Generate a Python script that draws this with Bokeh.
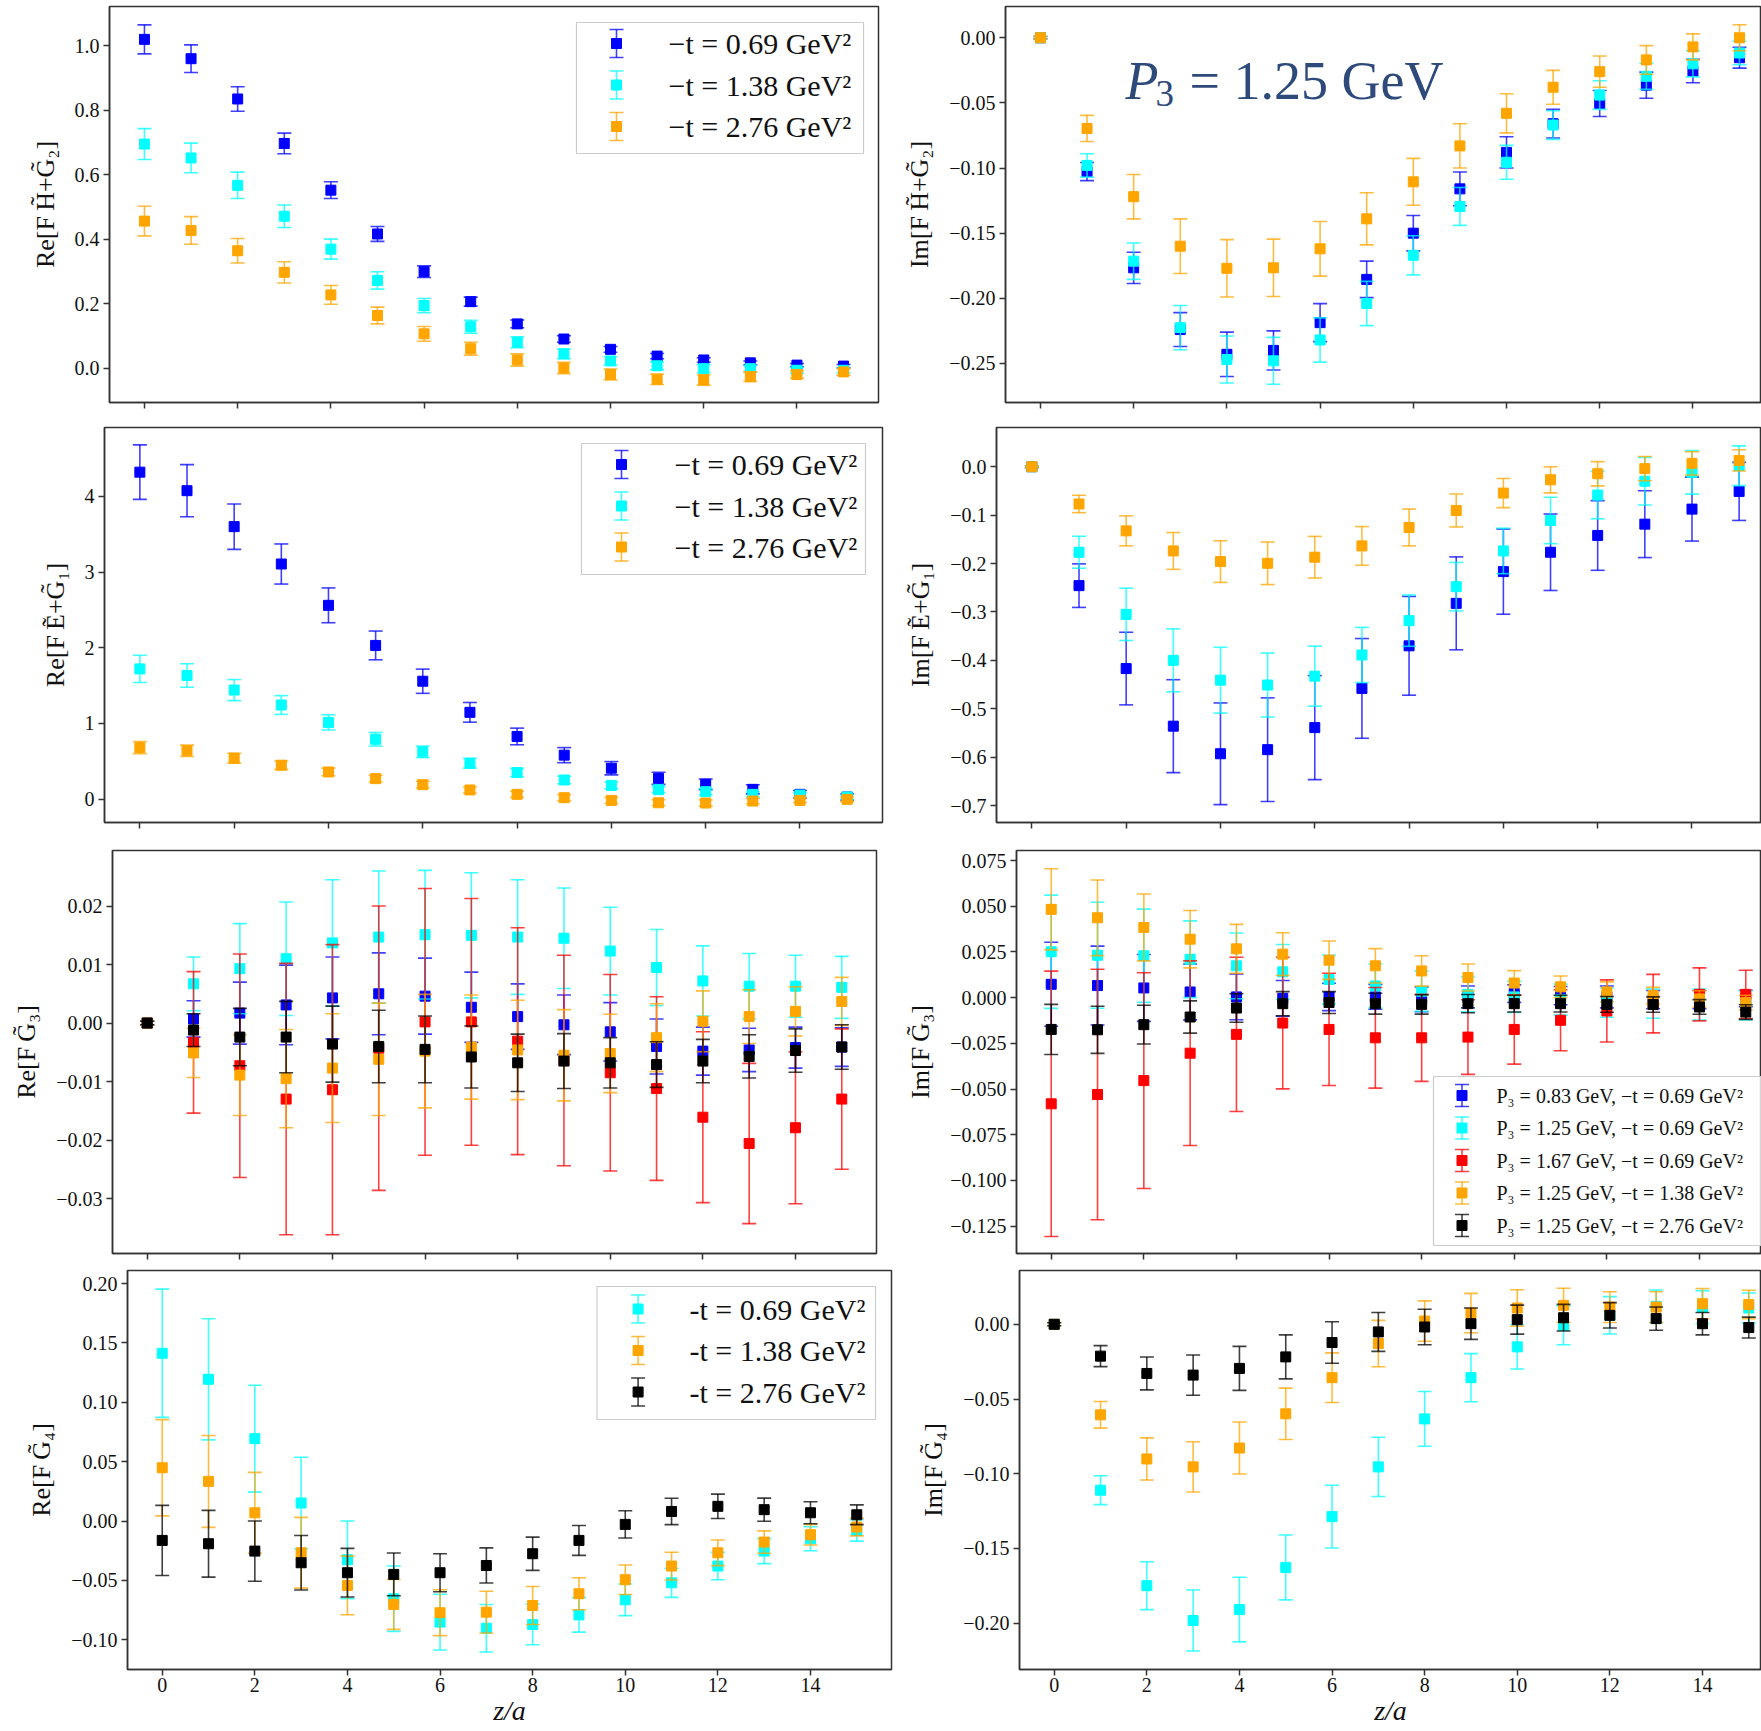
from bokeh.plotting import figure
from bokeh.models import Range1d, FixedTicker, CustomJSTickFormatter, ColumnDataSource, CustomLabelingPolicy
from bokeh.layouts import row, column
from bokeh.embed import file_html
from bokeh.resources import INLINE
from bokeh.core.properties import value

# ---------------------------------------------------------------- data
Z = list(range(16))
XTICKS = [0, 2, 4, 6, 8, 10, 12, 14]

# Re[F_{H+G2}]
RE_HG2_T069 = [1.020, 0.960, 0.835, 0.697, 0.552, 0.416, 0.299, 0.206, 0.137, 0.090, 0.058, 0.037, 0.025, 0.016, 0.009, 0.006]
RE_HG2_T069_ERR = [0.045, 0.043, 0.038, 0.032, 0.026, 0.023, 0.018, 0.014, 0.012, 0.010, 0.009, 0.008, 0.007, 0.006, 0.005, 0.005]
RE_HG2_T138 = [0.695, 0.652, 0.567, 0.471, 0.369, 0.272, 0.194, 0.128, 0.080, 0.044, 0.022, 0.007, -0.002, -0.002, -0.007, -0.007]
RE_HG2_T138_ERR = [0.048, 0.046, 0.041, 0.035, 0.031, 0.027, 0.022, 0.020, 0.017, 0.015, 0.013, 0.012, 0.012, 0.010, 0.009, 0.008]
RE_HG2_T276 = [0.456, 0.427, 0.364, 0.297, 0.227, 0.163, 0.106, 0.060, 0.025, 0.000, -0.020, -0.035, -0.037, -0.027, -0.020, -0.012]
RE_HG2_T276_ERR = [0.046, 0.043, 0.038, 0.033, 0.029, 0.026, 0.023, 0.020, 0.019, 0.018, 0.017, 0.016, 0.016, 0.015, 0.012, 0.010]

# Im[F_{H+G2}]
IM_HG2_T069 = [0.0, -0.1027, -0.1766, -0.224, -0.243, -0.240, -0.2187, -0.1855, -0.150, -0.116, -0.088, -0.066, -0.0505, -0.0364, -0.0255, -0.0153]
IM_HG2_T069_ERR = [0.001, 0.007, 0.012, 0.013, 0.017, 0.015, 0.0146, 0.014, 0.0136, 0.013, 0.012, 0.011, 0.010, 0.010, 0.009, 0.008]
IM_HG2_T138 = [0.0, -0.098, -0.1715, -0.2225, -0.247, -0.248, -0.232, -0.204, -0.167, -0.1295, -0.0956, -0.067, -0.044, -0.0296, -0.020, -0.0117]
IM_HG2_T138_ERR = [0.001, 0.009, 0.014, 0.017, 0.018, 0.018, 0.017, 0.017, 0.015, 0.0145, 0.013, 0.011, 0.011, 0.010, 0.010, 0.009]
IM_HG2_T276 = [0.0, -0.0696, -0.122, -0.160, -0.177, -0.1766, -0.162, -0.139, -0.1106, -0.083, -0.058, -0.038, -0.026, -0.017, -0.007, 0.000]
IM_HG2_T276_ERR = [0.001, 0.010, 0.017, 0.021, 0.022, 0.022, 0.021, 0.020, 0.018, 0.017, 0.015, 0.013, 0.012, 0.011, 0.010, 0.010]

# Re[F_{E+G1}]
RE_EG1_T069 = [4.32, 4.075, 3.60, 3.106, 2.56, 2.03, 1.557, 1.146, 0.827, 0.58, 0.407, 0.274, 0.195, 0.128, 0.062, 0.027]
RE_EG1_T069_ERR = [0.36, 0.345, 0.30, 0.265, 0.23, 0.19, 0.16, 0.13, 0.11, 0.10, 0.088, 0.08, 0.07, 0.06, 0.05, 0.04]
RE_EG1_T138 = [1.72, 1.633, 1.44, 1.243, 1.013, 0.79, 0.624, 0.473, 0.35, 0.252, 0.18, 0.124, 0.097, 0.062, 0.053, 0.027]
RE_EG1_T138_ERR = [0.18, 0.155, 0.14, 0.124, 0.10, 0.09, 0.076, 0.065, 0.055, 0.05, 0.045, 0.04, 0.04, 0.035, 0.03, 0.03]
RE_EG1_T276 = [0.68, 0.637, 0.54, 0.447, 0.358, 0.27, 0.19, 0.12, 0.062, 0.018, -0.018, -0.049, -0.053, -0.027, -0.018, -0.004]
RE_EG1_T276_ERR = [0.08, 0.075, 0.065, 0.055, 0.05, 0.045, 0.045, 0.04, 0.04, 0.04, 0.04, 0.04, 0.04, 0.035, 0.03, 0.03]

# Im[F_{E+G1}]
IM_EG1_T069 = [0.0, -0.2457, -0.417, -0.536, -0.593, -0.5845, -0.539, -0.458, -0.370, -0.2823, -0.2167, -0.1767, -0.142, -0.1187, -0.0876, -0.051]
IM_EG1_T069_ERR = [0.002, 0.045, 0.075, 0.096, 0.105, 0.107, 0.1075, 0.103, 0.102, 0.096, 0.088, 0.079, 0.072, 0.069, 0.066, 0.060]
IM_EG1_T138 = [0.0, -0.1767, -0.305, -0.400, -0.441, -0.451, -0.4327, -0.389, -0.318, -0.2478, -0.174, -0.111, -0.0587, -0.030, -0.0117, 0.002]
IM_EG1_T138_ERR = [0.002, 0.033, 0.054, 0.065, 0.068, 0.066, 0.062, 0.057, 0.053, 0.050, 0.047, 0.048, 0.049, 0.049, 0.045, 0.041]
IM_EG1_T276 = [0.0, -0.077, -0.1325, -0.174, -0.196, -0.1995, -0.187, -0.1636, -0.1256, -0.0904, -0.0545, -0.027, -0.0145, -0.004, 0.007, 0.013]
IM_EG1_T276_ERR = [0.002, 0.018, 0.031, 0.038, 0.043, 0.044, 0.043, 0.040, 0.038, 0.034, 0.030, 0.027, 0.025, 0.025, 0.024, 0.022]

# Re[F_{G3}]
RE_G3_P083 = [0.0, 0.0007, 0.0017, 0.0031, 0.0043, 0.005, 0.0046, 0.0027, 0.0011, -0.0003, -0.0015, -0.004, -0.0048, -0.0046, -0.0042, -0.0041]
RE_G3_P083_ERR = [0.0003, 0.0031, 0.0053, 0.0068, 0.007, 0.007, 0.0065, 0.006, 0.0056, 0.0051, 0.005, 0.0047, 0.0041, 0.0037, 0.0035, 0.0033]
RE_G3_P125 = [0.0, 0.0067, 0.0093, 0.011, 0.0137, 0.0147, 0.0151, 0.015, 0.0147, 0.0145, 0.0123, 0.0095, 0.0072, 0.0063, 0.0063, 0.0061]
RE_G3_P125_ERR = [0.0003, 0.0046, 0.0077, 0.0097, 0.0108, 0.0113, 0.011, 0.0107, 0.0098, 0.0086, 0.0075, 0.0065, 0.006, 0.0056, 0.0053, 0.0053]
RE_G3_P167 = [0.0, -0.0033, -0.0073, -0.013, -0.0114, -0.0043, 0.0002, 0.0002, -0.0031, -0.0064, -0.0085, -0.0112, -0.0161, -0.0206, -0.0179, -0.013]
RE_G3_P167_ERR = [0.0003, 0.0121, 0.0191, 0.0232, 0.0248, 0.0243, 0.0228, 0.0211, 0.0194, 0.018, 0.0168, 0.0157, 0.0146, 0.0137, 0.013, 0.012]
RE_G3_T138 = [0.0, -0.0051, -0.0089, -0.0095, -0.0077, -0.0062, -0.0048, -0.0041, -0.0046, -0.0055, -0.0052, -0.0025, 0.0003, 0.0011, 0.002, 0.0037]
RE_G3_T138_ERR = [0.0003, 0.0042, 0.0069, 0.0084, 0.0093, 0.0096, 0.0097, 0.0089, 0.0085, 0.0078, 0.0067, 0.0058, 0.0052, 0.0046, 0.0042, 0.0041]
RE_G3_T276 = [0.0, -0.0012, -0.0024, -0.0024, -0.0036, -0.004, -0.0045, -0.0058, -0.0068, -0.0065, -0.0068, -0.0071, -0.0065, -0.0057, -0.0047, -0.0041]
RE_G3_T276_ERR = [0.0003, 0.0028, 0.0049, 0.0061, 0.0065, 0.0062, 0.0057, 0.0053, 0.0049, 0.0047, 0.0043, 0.0039, 0.0037, 0.0037, 0.0037, 0.0038]

# Im[F_{G3}]
IM_G3_P083 = [0.0073, 0.0066, 0.0053, 0.0031, 0.0004, -0.0004, 0.0004, 0.0004, -0.0009, 0.0004, 0.0022, 0.0011, 0.0004, -0.0011, -0.0011, -0.0005]
IM_G3_P083_ERR = [0.023, 0.0216, 0.0183, 0.0153, 0.0125, 0.0098, 0.0075, 0.0068, 0.0068, 0.006, 0.0048, 0.005, 0.006, 0.005, 0.005, 0.0045]
IM_G3_P125 = [0.0251, 0.0232, 0.0229, 0.021, 0.0174, 0.0141, 0.0099, 0.0064, 0.0035, 0.0018, 0.0004, -0.0011, -0.0027, -0.0033, -0.0038, -0.0042]
IM_G3_P125_ERR = [0.031, 0.029, 0.0255, 0.021, 0.018, 0.015, 0.0133, 0.012, 0.011, 0.0095, 0.0085, 0.0085, 0.008, 0.008, 0.0085, 0.008]
IM_G3_P167 = [-0.0581, -0.053, -0.0454, -0.0304, -0.0201, -0.0139, -0.0174, -0.022, -0.022, -0.0216, -0.0174, -0.0124, -0.0073, -0.0033, 0.0018, 0.0018]
IM_G3_P167_ERR = [0.0726, 0.0685, 0.059, 0.0505, 0.0422, 0.036, 0.0307, 0.0275, 0.0238, 0.0204, 0.019, 0.0167, 0.017, 0.016, 0.0145, 0.0132]
IM_G3_T138 = [0.0483, 0.0437, 0.0384, 0.032, 0.0267, 0.0238, 0.0205, 0.0174, 0.0146, 0.011, 0.008, 0.0059, 0.0031, 0.0011, -0.0007, -0.0027]
IM_G3_T138_ERR = [0.0222, 0.0207, 0.0183, 0.0157, 0.0134, 0.0117, 0.0105, 0.0094, 0.0083, 0.0074, 0.0068, 0.0059, 0.0055, 0.0045, 0.0045, 0.004]
IM_G3_T276 = [-0.0174, -0.0176, -0.0148, -0.0106, -0.0057, -0.0033, -0.0027, -0.0033, -0.0037, -0.0033, -0.0033, -0.0033, -0.0037, -0.0038, -0.0051, -0.0079]
IM_G3_T276_ERR = [0.0137, 0.0129, 0.0106, 0.0088, 0.0078, 0.0066, 0.006, 0.0057, 0.0053, 0.005, 0.0046, 0.0046, 0.0043, 0.0042, 0.004, 0.004]

# Re[F_{G4}]
RE_G4_T069 = [0.1413, 0.1194, 0.0694, 0.0152, -0.0326, -0.0654, -0.0851, -0.0902, -0.0871, -0.079, -0.0663, -0.052, -0.0379, -0.0253, -0.0149, -0.0079]
RE_G4_T069_ERR = [0.054, 0.051, 0.045, 0.0385, 0.0327, 0.0275, 0.0235, 0.020, 0.017, 0.0145, 0.0133, 0.0123, 0.0115, 0.0105, 0.0101, 0.009]
RE_G4_T138 = [0.0449, 0.0334, 0.007, -0.0267, -0.0542, -0.0702, -0.0772, -0.0767, -0.0711, -0.0612, -0.0494, -0.0379, -0.0267, -0.0177, -0.0115, -0.005]
RE_G4_T138_ERR = [0.0405, 0.0387, 0.034, 0.0298, 0.0247, 0.021, 0.0193, 0.0176, 0.016, 0.0135, 0.0124, 0.0117, 0.0108, 0.0094, 0.0086, 0.0075]
RE_G4_T276 = [-0.0163, -0.0191, -0.0253, -0.0351, -0.0435, -0.0449, -0.0435, -0.0374, -0.0275, -0.0163, -0.0028, 0.0081, 0.0124, 0.0096, 0.007, 0.0053]
RE_G4_T276_ERR = [0.0295, 0.0281, 0.0254, 0.0229, 0.0205, 0.018, 0.016, 0.0148, 0.014, 0.0126, 0.0115, 0.0111, 0.0103, 0.0097, 0.0093, 0.0083]

# Im[F_{G4}]
IM_G4_T069 = [0.0, -0.111, -0.1749, -0.1982, -0.1909, -0.1627, -0.1287, -0.0954, -0.0633, -0.0357, -0.0151, -0.0007, 0.006, 0.012, 0.0115, 0.0109]
IM_G4_T069_ERR = [0.001, 0.0097, 0.016, 0.0204, 0.0216, 0.0217, 0.021, 0.0198, 0.0183, 0.0161, 0.0148, 0.013, 0.0125, 0.011, 0.011, 0.010]
IM_G4_T138 = [0.0, -0.0606, -0.0901, -0.0954, -0.0828, -0.0599, -0.0357, -0.0129, 0.0022, 0.0075, 0.0109, 0.0127, 0.0115, 0.0115, 0.0138, 0.0133]
IM_G4_T138_ERR = [0.001, 0.0089, 0.0141, 0.0168, 0.0174, 0.0172, 0.0166, 0.0155, 0.0135, 0.0132, 0.0122, 0.0114, 0.0103, 0.0103, 0.0102, 0.0095]
IM_G4_T276 = [0.0, -0.0213, -0.0329, -0.034, -0.0295, -0.0218, -0.0122, -0.0051, -0.0018, 0.0004, 0.0031, 0.0044, 0.006, 0.0038, 0.0004, -0.0022]
IM_G4_T276_ERR = [0.001, 0.007, 0.011, 0.0135, 0.0147, 0.0147, 0.0139, 0.013, 0.0119, 0.0105, 0.0097, 0.0089, 0.0085, 0.0078, 0.0075, 0.007]

LEG_T = ["\u2212t = 0.69 GeV\u00b2", "\u2212t = 1.38 GeV\u00b2", "\u2212t = 2.76 GeV\u00b2"]
LEG_T_HY = ["-t = 0.69 GeV\u00b2", "-t = 1.38 GeV\u00b2", "-t = 2.76 GeV\u00b2"]
LEG_G3 = ["P\u2083 = 0.83 GeV, \u2212t = 0.69 GeV\u00b2",
          "P\u2083 = 1.25 GeV, \u2212t = 0.69 GeV\u00b2",
          "P\u2083 = 1.67 GeV, \u2212t = 0.69 GeV\u00b2",
          "P\u2083 = 1.25 GeV, \u2212t = 1.38 GeV\u00b2",
          "P\u2083 = 1.25 GeV, \u2212t = 2.76 GeV\u00b2"]

YL_RE_HG2 = "Re[F\u2009H\u0303+G\u0303\u2082]"
YL_IM_HG2 = "Im[F\u2009H\u0303+G\u0303\u2082]"
YL_RE_EG1 = "Re[F\u2009E\u0303+G\u0303\u2081]"
YL_IM_EG1 = "Im[F\u2009E\u0303+G\u0303\u2081]"
YL_RE_G3 = "Re[F\u2009G\u0303\u2083]"
YL_IM_G3 = "Im[F\u2009G\u0303\u2083]"
YL_RE_G4 = "Re[F\u2009G\u0303\u2084]"
YL_IM_G4 = "Im[F\u2009G\u0303\u2084]"

# ---------------------------------------------------------------- style
SERIF = "Liberation Serif"
BLUE, CYAN, ORANGE, RED, BLACK = "#0000ff", "#00ffff", "#ffa500", "#ff0000", "#000000"
AX = "#333333"
TXT = "#111111"

TOTAL_W = 1761
SPLIT = 895

NO_LABELS = CustomLabelingPolicy(code="""
const ind = arguments[0];
try { for (const i of Array.from(ind)) { ind.unset(i); } } catch (e) {}
return ind;
""")


def make_panel(cw, ch, bl, br, bt, bb, yr, yticks, ydec, ylabel, xlabels, xend=None):
    fw = cw - bl - br
    xr = (-0.75, 15.75) if xend is None else (-0.75, xend)
    p = figure(width=cw, height=ch, x_range=Range1d(*xr), y_range=Range1d(*yr),
               output_backend="svg", toolbar_location=None,
               min_border_left=bl, min_border_right=br, min_border_top=bt, min_border_bottom=bb)
    p.grid.visible = False
    p.background_fill_color = "white"
    p.border_fill_color = "white"
    p.outline_line_color = AX
    p.outline_line_width = 1.5
    for ax in (p.xaxis[0], p.yaxis[0]):
        ax.axis_line_color = AX
        ax.axis_line_width = 1.5
        ax.major_tick_line_color = AX
        ax.major_tick_line_width = 1.5
        ax.major_tick_out = 6
        ax.major_tick_in = 0
        ax.minor_tick_out = 0
        ax.minor_tick_in = 0
        ax.major_label_text_font = SERIF
        ax.major_label_text_font_size = "20px"
        ax.major_label_text_color = TXT
        ax.major_label_standoff = 4
    p.xaxis.ticker = FixedTicker(ticks=XTICKS)
    p.yaxis.ticker = FixedTicker(ticks=yticks)
    p.yaxis.formatter = CustomJSTickFormatter(code="return tick.toFixed(%d).replace('-', '\\u2212');" % ydec)
    p.yaxis.axis_label = ylabel
    p.yaxis.axis_label_text_font = SERIF
    p.yaxis.axis_label_text_font_size = "26px"
    p.yaxis.axis_label_text_font_style = "normal"
    p.yaxis.axis_label_text_color = TXT
    p.yaxis.axis_label_standoff = 12
    if xlabels:
        p.xaxis.major_label_standoff = 2
        p.xaxis.axis_label = "z/a"
        p.xaxis.axis_label_text_font = SERIF
        p.xaxis.axis_label_text_font_size = "28px"
        p.xaxis.axis_label_text_font_style = "italic"
        p.xaxis.axis_label_text_color = TXT
        p.xaxis.axis_label_standoff = 0
    else:
        p.xaxis.major_label_text_font_size = "0px"
        p.xaxis.major_label_standoff = 0
        p.xaxis.major_label_policy = NO_LABELS
    fh = ch - bt - bb
    p.extra_x_ranges = {"px": Range1d(0, fw)}
    p.extra_y_ranges = {"py": Range1d(fh, 0)}
    return p


def errorbars(p, y, e, color):
    lo = [a - b for a, b in zip(y, e)]
    hi = [a + b for a, b in zip(y, e)]
    src = ColumnDataSource(dict(z=Z, y=y, lo=lo, hi=hi))
    p.segment(x0="z", y0="lo", x1="z", y1="hi", source=src,
              line_color=color, line_width=1.6, line_alpha=0.75)
    p.scatter(x="z", y="lo", source=src, marker="dash", size=14,
              line_color=color, line_width=1.6, line_alpha=0.75)
    p.scatter(x="z", y="hi", source=src, marker="dash", size=14,
              line_color=color, line_width=1.6, line_alpha=0.75)
    p.scatter(x="z", y="y", source=src, marker="square", size=10,
              fill_color=color, line_color=color)


def legend(p, box, labels, colors, ys, mx, tx, font, half):
    x0, x1, y0, y1 = box
    kw = dict(x_range_name="px", y_range_name="py")
    p.quad(left=[x0], right=[x1], top=[y0], bottom=[y1], fill_color="white", fill_alpha=0.8,
           line_color="#cccccc", line_width=1.2, **kw)
    for lab, col, yy in zip(labels, colors, ys):
        p.segment(x0=[mx], y0=[yy - half], x1=[mx], y1=[yy + half], line_color=col,
                  line_width=1.6, line_alpha=0.75, **kw)
        p.scatter(x=[mx, mx], y=[yy - half, yy + half], marker="dash", size=14, line_color=col,
                  line_width=1.6, line_alpha=0.75, **kw)
        p.scatter(x=[mx], y=[yy], marker="square", size=10, fill_color=col, line_color=col, **kw)
        p.text(x=[tx], y=[yy], text=[lab], text_font=value(SERIF), text_font_size=font,
               text_baseline="middle", text_align="left", text_color=TXT, **kw)


RW = TOTAL_W - SPLIT


def xend_for(left_fw, right_fw):
    per = left_fw / 16.5
    return -0.75 + right_fw / per


# ---------------------------------------------------------------- row 1
H1 = 416
p1 = make_panel(SPLIT, H1, 109, SPLIT - 878, 6, 14, (-0.107, 1.122),
                [0.0, 0.2, 0.4, 0.6, 0.8, 1.0], 1, YL_RE_HG2, False)
errorbars(p1, RE_HG2_T069, RE_HG2_T069_ERR, BLUE)
errorbars(p1, RE_HG2_T138, RE_HG2_T138_ERR, CYAN)
errorbars(p1, RE_HG2_T276, RE_HG2_T276_ERR, ORANGE)
legend(p1, (467, 754, 16, 147), LEG_T, [BLUE, CYAN, ORANGE], [37, 78.5, 120], 507, 559, "30px", 14)

p2 = make_panel(RW, H1, 1005 - SPLIT, 0, 6, 14, (-0.280, 0.024),
                [-0.25, -0.2, -0.15, -0.1, -0.05, 0.0], 2, YL_IM_HG2, False,
                xend=xend_for(769, RW - (1005 - SPLIT)))
errorbars(p2, IM_HG2_T069, IM_HG2_T069_ERR, BLUE)
errorbars(p2, IM_HG2_T138, IM_HG2_T138_ERR, CYAN)
errorbars(p2, IM_HG2_T276, IM_HG2_T276_ERR, ORANGE)
TCOL = "#2e4a7a"
p2.text(x=[120], y=[74], text=["P"], text_font=value(SERIF), text_font_size="54px",
        text_font_style="italic", text_color=TCOL, text_baseline="alphabetic",
        x_range_name="px", y_range_name="py")
p2.text(x=[150], y=[87], text=["3"], text_font=value(SERIF), text_font_size="37px",
        text_color=TCOL, text_baseline="alphabetic", x_range_name="px", y_range_name="py")
p2.text(x=[184], y=[74], text=["= 1.25 GeV"], text_font=value(SERIF), text_font_size="54px",
        text_color=TCOL, text_baseline="alphabetic", x_range_name="px", y_range_name="py")

# ---------------------------------------------------------------- row 2
H2 = 422
p3 = make_panel(SPLIT, H2, 104, SPLIT - 882, 11, 16, (-0.31, 4.91),
                [0, 1, 2, 3, 4], 0, YL_RE_EG1, False)
errorbars(p3, RE_EG1_T069, RE_EG1_T069_ERR, BLUE)
errorbars(p3, RE_EG1_T138, RE_EG1_T138_ERR, CYAN)
errorbars(p3, RE_EG1_T276, RE_EG1_T276_ERR, ORANGE)
legend(p3, (477, 761, 16, 147), LEG_T, [BLUE, CYAN, ORANGE], [37, 78.5, 119.5], 517, 570, "30px", 14)

p4 = make_panel(RW, H2, 996 - SPLIT, 0, 11, 16, (-0.735, 0.081),
                [-0.7, -0.6, -0.5, -0.4, -0.3, -0.2, -0.1, 0.0], 1, YL_IM_EG1, False,
                xend=xend_for(778, RW - (996 - SPLIT)))
errorbars(p4, IM_EG1_T069, IM_EG1_T069_ERR, BLUE)
errorbars(p4, IM_EG1_T138, IM_EG1_T138_ERR, CYAN)
errorbars(p4, IM_EG1_T276, IM_EG1_T276_ERR, ORANGE)

# ---------------------------------------------------------------- row 3
H3 = 424
p5 = make_panel(SPLIT, H3, 112, SPLIT - 876, 12, 9, (-0.0394, 0.0295),
                [-0.03, -0.02, -0.01, 0.0, 0.01, 0.02], 2, YL_RE_G3, False)
errorbars(p5, RE_G3_P083, RE_G3_P083_ERR, BLUE)
errorbars(p5, RE_G3_P125, RE_G3_P125_ERR, CYAN)
errorbars(p5, RE_G3_P167, RE_G3_P167_ERR, RED)
errorbars(p5, RE_G3_T138, RE_G3_T138_ERR, ORANGE)
errorbars(p5, RE_G3_T276, RE_G3_T276_ERR, BLACK)

p6 = make_panel(RW, H3, 1016 - SPLIT, 0, 12, 9, (-0.140, 0.0805),
                [-0.125, -0.1, -0.075, -0.05, -0.025, 0.0, 0.025, 0.05, 0.075], 3, YL_IM_G3, False,
                xend=xend_for(764, RW - (1016 - SPLIT)))
errorbars(p6, IM_G3_P083, IM_G3_P083_ERR, BLUE)
errorbars(p6, IM_G3_P125, IM_G3_P125_ERR, CYAN)
errorbars(p6, IM_G3_P167, IM_G3_P167_ERR, RED)
errorbars(p6, IM_G3_T138, IM_G3_T138_ERR, ORANGE)
errorbars(p6, IM_G3_T276, IM_G3_T276_ERR, BLACK)
legend(p6, (417, 800, 226, 395), LEG_G3, [BLUE, CYAN, RED, ORANGE, BLACK],
       [245, 277.5, 310, 342.5, 375], 445.5, 480, "20px", 11)

# ---------------------------------------------------------------- row 4
H4 = 469
p7 = make_panel(SPLIT, H4, 127, SPLIT - 891, 8, 62, (-0.125, 0.211),
                [-0.1, -0.05, 0.0, 0.05, 0.1, 0.15, 0.2], 2, YL_RE_G4, True)
errorbars(p7, RE_G4_T069, RE_G4_T069_ERR, CYAN)
errorbars(p7, RE_G4_T138, RE_G4_T138_ERR, ORANGE)
errorbars(p7, RE_G4_T276, RE_G4_T276_ERR, BLACK)
legend(p7, (469.5, 748, 16, 149), LEG_T_HY, [CYAN, ORANGE, BLACK], [38.5, 80, 121.5], 510.6, 562, "30px", 14)

p8 = make_panel(RW, H4, 1019 - SPLIT, 0, 8, 62, (-0.231, 0.036),
                [-0.2, -0.15, -0.1, -0.05, 0.0], 2, YL_IM_G4, True,
                xend=xend_for(764, RW - (1019 - SPLIT)))
errorbars(p8, IM_G4_T069, IM_G4_T069_ERR, CYAN)
errorbars(p8, IM_G4_T138, IM_G4_T138_ERR, ORANGE)
errorbars(p8, IM_G4_T276, IM_G4_T276_ERR, BLACK)

layout = column(row(p1, p2), row(p3, p4), row(p5, p6), row(p7, p8))

with open("out.html", "w") as f:
    f.write(file_html(layout, INLINE, "GPD matrix elements"))
